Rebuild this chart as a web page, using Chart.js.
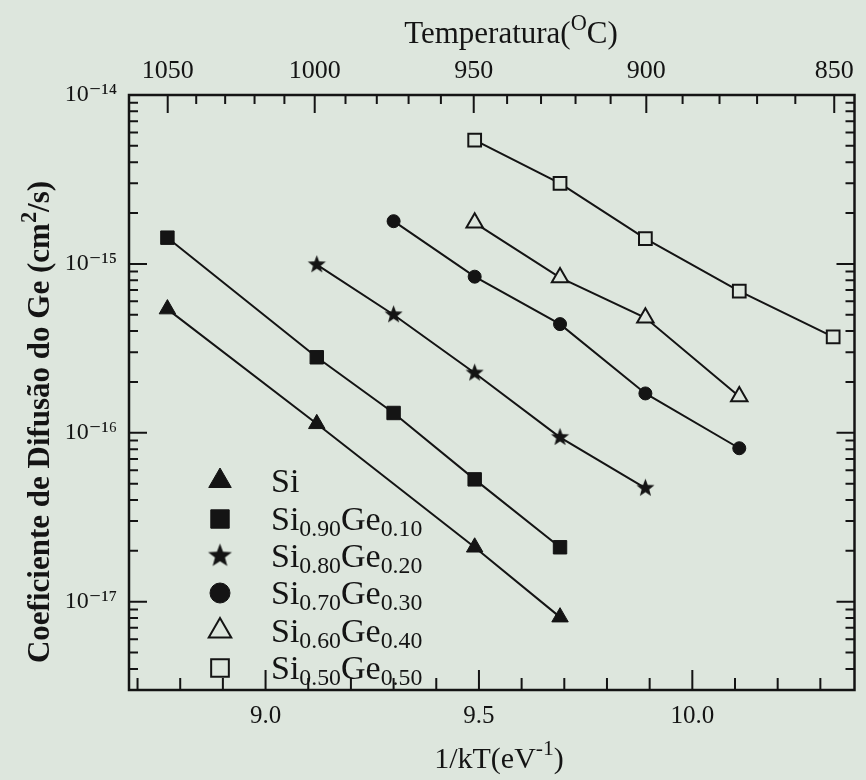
<!DOCTYPE html>
<html>
<head>
<meta charset="utf-8">
<script src="https://cdn.jsdelivr.net/npm/chart.js@4.4.1/dist/chart.umd.min.js"></script>
<style>
  html, body { margin: 0; padding: 0; background: #dde6dd; }
  #wrap { width: 866px; height: 780px; }
</style>
</head>
<body>
<div id="wrap"><canvas id="chart" width="866" height="780"></canvas></div>
<script>
// 1/kT (eV^-1) and D (cm2/s)
const xSi   = [8.77, 9.12, 9.49, 9.69];
const ySi   = [5.4e-16, 1.13e-16, 2.1e-17, 8.1e-18];
const xGe10 = [8.77, 9.12, 9.30, 9.49, 9.69];
const yGe10 = [1.43e-15, 2.8e-16, 1.31e-16, 5.3e-17, 2.1e-17];
const xGe20 = [9.12, 9.30, 9.49, 9.69, 9.89];
const yGe20 = [9.9e-16, 5.0e-16, 2.26e-16, 9.4e-17, 4.7e-17];
const xGe30 = [9.30, 9.49, 9.69, 9.89, 10.11];
const yGe30 = [1.79e-15, 8.4e-16, 4.4e-16, 1.71e-16, 8.1e-17];
const xGe40 = [9.49, 9.69, 9.89, 10.11];
const yGe40 = [1.75e-15, 8.3e-16, 4.8e-16, 1.64e-16];
const xGe50 = [9.49, 9.69, 9.89, 10.11, 10.33];
const yGe50 = [5.4e-15, 3.0e-15, 1.41e-15, 6.9e-16, 3.7e-16];

const seriesNames = ['Si', 'Si0.90Ge0.10', 'Si0.80Ge0.20', 'Si0.70Ge0.30', 'Si0.60Ge0.40', 'Si0.50Ge0.50'];

const bottomTickLabels = [9.0, 9.5, 10.0];
const bottomMinorTicks = [8.7, 8.8, 8.9, 9.0, 9.1, 9.2, 9.3, 9.4, 9.5, 9.6, 9.7, 9.8, 9.9, 10.0, 10.1, 10.2, 10.3];
const topTempLabels = [1050, 1000, 950, 900, 850];
const yTickLabels = [1e-17, 1e-16, 1e-15, 1e-14];

const xMin = 8.68, xMax = 10.38;
const yMin = 3.16e-18, yMax = 1e-14;

const K_B = 8.617e-5;
const BG = '#dde6dd';
const INK = '#141414';
const SERIF = '"Liberation Serif", "DejaVu Serif", serif';

function invkT(tC) { return 1 / (K_B * (tC + 273.15)); }
function supNum(s) {
  const map = { '-': '\u207B', '0': '\u2070', '1': '\u00B9', '2': '\u00B2', '3': '\u00B3', '4': '\u2074',
                '5': '\u2075', '6': '\u2076', '7': '\u2077', '8': '\u2078', '9': '\u2079' };
  return String(s).split('').map(c => map[c] || c).join('');
}

function makeStar(r) {
  const s = Math.ceil(r * 2 + 2);
  const c = document.createElement('canvas');
  c.width = s; c.height = s;
  const g = c.getContext('2d');
  g.beginPath();
  for (let i = 0; i < 10; i++) {
    const rad = i % 2 ? r * 0.42 : r;
    const a = -Math.PI / 2 + i * Math.PI / 5;
    g.lineTo(s / 2 + rad * Math.cos(a), s / 2 + rad * Math.sin(a));
  }
  g.closePath();
  g.fillStyle = INK;
  g.fill();
  return c;
}
const starSmall = makeStar(9.5);
const starBig = makeStar(12.5);

const markers = [
  { style: 'triangle', filled: true,  r: 9.5, lr: 13 },
  { style: 'rect',     filled: true,  r: 9.5, lr: 13 },
  { style: starSmall,  filled: true,  r: 9,   lr: 12, big: starBig },
  { style: 'circle',   filled: true,  r: 6.5, lr: 10 },
  { style: 'triangle', filled: false, r: 9.5, lr: 13 },
  { style: 'rect',     filled: false, r: 9,   lr: 12.5 }
];

function series(xs, ys, idx) {
  const m = markers[idx];
  return {
    label: seriesNames[idx],
    data: xs.map((x, i) => ({ x: x, y: ys[i] })),
    showLine: true,
    borderColor: INK,
    borderWidth: 2,
    pointStyle: m.style,
    pointRadius: m.r,
    pointHoverRadius: m.r,
    pointBackgroundColor: m.filled ? INK : BG,
    pointBorderColor: INK,
    pointBorderWidth: m.filled ? 1 : 2,
    xAxisID: 'x',
    yAxisID: 'y'
  };
}

// text with sub/superscripts on an alphabetic baseline: parts = [[text, 'n'|'sub'|'sup'], ...]
function drawRich(ctx, parts, x, y, size, weight, subScale) {
  const sc = subScale || 0.72;
  let cx = x;
  ctx.textBaseline = 'alphabetic';
  parts.forEach(p => {
    const fs = p[1] !== 'n' ? size * sc : size;
    ctx.font = (weight || 'normal') + ' ' + fs + 'px ' + SERIF;
    const dy = p[1] === 'sub' ? size * 0.17 : (p[1] === 'sup' ? -size * 0.42 : 0);
    ctx.fillText(p[0], cx, y + dy);
    cx += ctx.measureText(p[0]).width;
  });
  return cx - x;
}
function measureRich(ctx, parts, size, weight, subScale) {
  const sc = subScale || 0.72;
  let w = 0;
  parts.forEach(p => {
    const fs = p[1] !== 'n' ? size * sc : size;
    ctx.font = (weight || 'normal') + ' ' + fs + 'px ' + SERIF;
    w += ctx.measureText(p[0]).width;
  });
  return w;
}
function nameParts(name) {
  const parts = [];
  name.replace(/([A-Za-z]+)([0-9.]*)/g, (all, el, num) => {
    parts.push([el, 'n']);
    if (num) parts.push([num, 'sub']);
    return all;
  });
  return parts;
}

const decor = {
  id: 'decor',
  beforeDraw(chart) {
    const ctx = chart.ctx;
    ctx.save();
    ctx.fillStyle = BG;
    ctx.fillRect(0, 0, chart.width, chart.height);
    ctx.restore();
  },
  afterDraw(chart) {
    const ctx = chart.ctx;
    const a = chart.chartArea;
    const xs = chart.scales.x, ys = chart.scales.y;
    ctx.save();
    ctx.strokeStyle = INK;
    ctx.lineWidth = 2.5;
    ctx.strokeRect(a.left, a.top, a.right - a.left, a.bottom - a.top);

    ctx.lineWidth = 2;
    ctx.beginPath();
    bottomMinorTicks.forEach(v => {
      const px = xs.getPixelForValue(v);
      const major = bottomTickLabels.some(b => Math.abs(b - v) < 1e-6);
      const len = major ? 20 : 12;
      ctx.moveTo(px, a.bottom); ctx.lineTo(px, a.bottom - len);
    });
    for (let t = 1050; t >= 850; t -= 10) {
      const px = xs.getPixelForValue(invkT(t));
      const len = t % 50 === 0 ? 18 : 9;
      ctx.moveTo(px, a.top); ctx.lineTo(px, a.top + len);
    }
    for (let e = -18; e <= -15; e++) {
      for (let m = 1; m <= 9; m++) {
        const v = m * Math.pow(10, e);
        if (v < yMin * 0.999 || v > yMax * 1.001) continue;
        const py = ys.getPixelForValue(v);
        const len = m === 1 ? 18 : 9;
        ctx.moveTo(a.left, py); ctx.lineTo(a.left + len, py);
        ctx.moveTo(a.right, py); ctx.lineTo(a.right - len, py);
      }
    }
    ctx.stroke();

    // legend
    ctx.fillStyle = INK;
    ctx.textAlign = 'left';
    const rowY = [481, 519, 556, 593, 631, 668];
    seriesNames.forEach((name, i) => {
      const m = markers[i];
      const ds = chart.data.datasets[i];
      ctx.save();
      ctx.fillStyle = ds.pointBackgroundColor;
      ctx.strokeStyle = INK;
      ctx.lineWidth = ds.pointBorderWidth;
      Chart.helpers.drawPoint(ctx, { pointStyle: m.big || m.style, radius: m.lr, borderWidth: ds.pointBorderWidth, rotation: 0 }, 220, rowY[i]);
      ctx.restore();
      drawRich(ctx, nameParts(name), 271, rowY[i] + 11, 34, 'normal', 0.7);
    });

    // axis titles
    const topParts = [['Temperatura(', 'n'], ['O', 'sup'], ['C)', 'n']];
    const tw = measureRich(ctx, topParts, 31);
    drawRich(ctx, topParts, 511 - tw / 2, 43, 31);

    const botParts = [['1/kT(eV', 'n'], ['-1', 'sup'], [')', 'n']];
    const bw = measureRich(ctx, botParts, 30);
    drawRich(ctx, botParts, 499 - bw / 2, 768, 30);

    ctx.save();
    ctx.translate(49, 422);
    ctx.rotate(-Math.PI / 2);
    const yParts = [['Coeficiente de Difus\u00E3o do Ge (cm', 'n'], ['2', 'sup'], ['/s)', 'n']];
    const yw = measureRich(ctx, yParts, 31, 'bold');
    drawRich(ctx, yParts, -yw / 2, 0, 31, 'bold');
    ctx.restore();

    ctx.restore();
  }
};

new Chart(document.getElementById('chart'), {
  type: 'scatter',
  data: {
    datasets: [
      series(xSi, ySi, 0),
      series(xGe10, yGe10, 1),
      series(xGe20, yGe20, 2),
      series(xGe30, yGe30, 3),
      series(xGe40, yGe40, 4),
      series(xGe50, yGe50, 5)
    ]
  },
  options: {
    responsive: false,
    animation: false,
    layout: { padding: { left: 0, right: 6, top: 0, bottom: 0 } },
    plugins: { legend: { display: false }, tooltip: { enabled: false } },
    scales: {
      x: {
        type: 'linear', position: 'bottom', min: xMin, max: xMax,
        afterBuildTicks: s => { s.ticks = bottomTickLabels.map(v => ({ value: v })); },
        afterFit: s => { s.height = 90; },
        grid: { display: false, drawTicks: false },
        border: { display: false },
        ticks: { callback: v => Number(v).toFixed(1), font: { family: SERIF, size: 25 }, color: INK, padding: 11, maxRotation: 0, autoSkip: false }
      },
      x2: {
        type: 'linear', position: 'top', min: xMin, max: xMax,
        afterBuildTicks: s => { s.ticks = topTempLabels.map(t => ({ value: invkT(t) })); },
        afterFit: s => { s.height = 95; },
        grid: { display: false, drawTicks: false },
        border: { display: false },
        ticks: { callback: v => String(Math.round(1 / (K_B * v) - 273.15)), font: { family: SERIF, size: 26 }, color: INK, padding: 8, maxRotation: 0, autoSkip: false }
      },
      y: {
        type: 'logarithmic', position: 'left', min: yMin, max: yMax,
        afterBuildTicks: s => { s.ticks = yTickLabels.map(v => ({ value: v })); },
        afterFit: s => { s.width = 129; },
        grid: { display: false, drawTicks: false },
        border: { display: false },
        ticks: { callback: v => '10' + supNum(Math.round(Math.log10(v))), font: { family: SERIF, size: 24 }, color: INK, padding: 12, autoSkip: false }
      }
    }
  },
  plugins: [decor]
});
</script>
</body>
</html>
